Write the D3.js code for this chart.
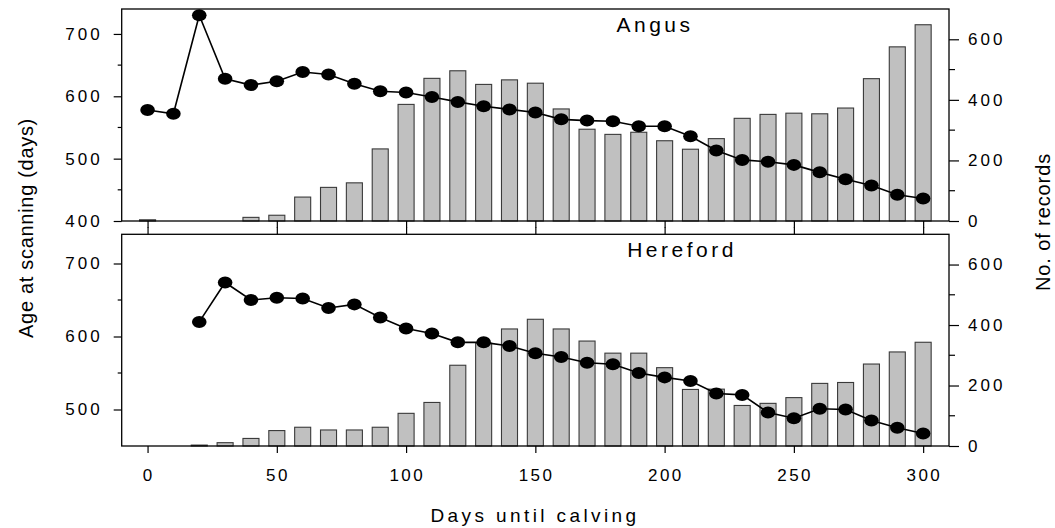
<!DOCTYPE html>
<html>
<head>
<meta charset="utf-8">
<script src="https://cdn.jsdelivr.net/npm/d3@7"></script>
<style>
  body { margin: 0; background: #fff; }
  svg text { font-family: "Liberation Sans", Arial, sans-serif; fill: #000; }
</style>
</head>
<body>
<div id="chart"></div>
<script>
// data
var days = [0, 10, 20, 30, 40, 50, 60, 70, 80, 90, 100, 110, 120, 130, 140, 150,
  160, 170, 180, 190, 200, 210, 220, 230, 240, 250, 260, 270, 280, 290, 300]

var angusRecords = [4, 0, 0, 0, 12, 19, 79, 111, 126, 238, 385, 471, 496, 451, 466, 455,
  370, 303, 286, 293, 265, 237, 272, 339, 352, 356, 354, 373, 470, 575, 648]
var angusAge = [578, 572, 730, 628, 618, 624, 639, 635, 620, 608, 606, 599, 591, 584, 579, 574,
  563, 561, 560, 552, 552, 536, 513, 498, 495, 490, 478, 467, 457, 442, 436]

var herefordRecords = [0, 0, 3, 11, 25, 51, 62, 53, 53, 62, 108, 144, 267, 340, 387, 419,
  387, 347, 307, 307, 259, 187, 188, 134, 141, 160, 207, 210, 271, 311, 343]
var herefordAge = [null, null, 620, 674, 650, 653, 652, 639, 644, 626, 611, 604, 592, 592, 587, 577,
  572, 564, 562, 550, 544, 539, 522, 520, 496, 488, 501, 500, 485, 475, 467]

var xTicks = [0, 50, 100, 150, 200, 250, 300]
var recTicks = [0, 200, 400, 600]

var width = 1055, height = 528
var left = 121.7, right = 949

var svg = d3.select("#chart")
  .append("svg")
  .attr("width", width)
  .attr("height", height)

var xScale = d3.scaleLinear()
  .domain([-10, 310])
  .range([left, right])

var panels = [
  { name: "Angus", top: 9, bottom: 221, ageDomain: [400, 740], ageTicks: [400, 500, 600, 700],
    ageMinor: [450, 550, 650], records: angusRecords, age: angusAge, titleX: 655, topTicks: false },
  { name: "Hereford", top: 234.3, bottom: 446, ageDomain: [450, 740], ageTicks: [500, 600, 700],
    ageMinor: [550, 650], records: herefordRecords, age: herefordAge, titleX: 682, topTicks: true }
]

panels.forEach(function(p) {
  var g = svg.append("g").attr("class", "panel")

  var yAge = d3.scaleLinear().domain(p.ageDomain).range([p.bottom, p.top])
  var yRec = d3.scaleLinear().domain([0, 700]).range([p.bottom, p.top])

  // bars
  var barHalf = 3.1
  g.selectAll(".bar")
    .data(days)
    .enter()
    .append("rect")
    .attr("class", "bar")
    .attr("x", function(d) { return xScale(d - barHalf) })
    .attr("width", function(d) { return xScale(d + barHalf) - xScale(d - barHalf) })
    .attr("y", function(d, i) { return yRec(p.records[i]) })
    .attr("height", function(d, i) { return p.bottom - yRec(p.records[i]) })
    .style("fill", "#c0c0c0")
    .style("stroke", "#3a3a3a")
    .style("stroke-width", 1.1)

  // line
  var pts = days.map(function(d, i) { return { x: d, y: p.age[i] } })
    .filter(function(d) { return d.y != null })

  var line = d3.line()
    .x(function(d) { return xScale(d.x) })
    .y(function(d) { return yAge(d.y) })

  g.append("path")
    .datum(pts)
    .attr("d", line)
    .style("fill", "none")
    .style("stroke", "#000")
    .style("stroke-width", 1.6)

  g.selectAll(".dot")
    .data(pts)
    .enter()
    .append("ellipse")
    .attr("class", "dot")
    .attr("cx", function(d) { return xScale(d.x) })
    .attr("cy", function(d) { return yAge(d.y) })
    .attr("rx", 7.3)
    .attr("ry", 6)
    .style("fill", "#000")

  // frame
  g.append("rect")
    .attr("x", left)
    .attr("y", p.top)
    .attr("width", right - left)
    .attr("height", p.bottom - p.top)
    .style("fill", "none")
    .style("stroke", "#000")
    .style("stroke-width", 1.3)

  // left axis
  var yAxisL = d3.axisLeft(yAge)
    .tickValues(p.ageTicks)
    .tickSize(8)
    .tickPadding(11)
    .tickFormat(d3.format("d"))
  var gl = g.append("g")
    .attr("transform", `translate(${left},0)`)
    .call(yAxisL)
  gl.select(".domain").remove()
  gl.selectAll(".tick line").style("stroke-width", 1.2)
  gl.selectAll("text")
    .style("font-size", "17px")
    .style("letter-spacing", "3px")
    .style("font-family", "'Liberation Sans', Arial, sans-serif")

  g.selectAll(".age-minor")
    .data(p.ageMinor)
    .enter()
    .append("line")
    .attr("x1", left - 4)
    .attr("x2", left)
    .attr("y1", function(d) { return yAge(d) })
    .attr("y2", function(d) { return yAge(d) })
    .style("stroke", "#000")
    .style("stroke-width", 1.2)

  // right axis
  var yAxisR = d3.axisRight(yRec)
    .tickValues(recTicks)
    .tickSize(10)
    .tickPadding(9)
  var gr = g.append("g")
    .attr("transform", `translate(${right},0)`)
    .call(yAxisR)
  gr.select(".domain").remove()
  gr.selectAll(".tick line").style("stroke-width", 1.2)
  gr.selectAll("text")
    .style("font-size", "17px")
    .style("letter-spacing", "3px")
    .style("font-family", "'Liberation Sans', Arial, sans-serif")

  g.selectAll(".rec-minor")
    .data([100, 300, 500])
    .enter()
    .append("line")
    .attr("x1", right)
    .attr("x2", right + 6)
    .attr("y1", function(d) { return yRec(d) })
    .attr("y2", function(d) { return yRec(d) })
    .style("stroke", "#000")
    .style("stroke-width", 1.2)

  // x ticks under the panel
  var xAxisB = d3.axisBottom(xScale).tickValues(xTicks).tickSize(7).tickFormat("")
  var gb = g.append("g")
    .attr("transform", `translate(0,${p.bottom})`)
    .call(xAxisB)
  gb.select(".domain").remove()
  gb.selectAll(".tick line").style("stroke-width", 1.2)

  if (p.topTicks) {
    var xAxisT = d3.axisTop(xScale).tickValues(xTicks).tickSize(7).tickFormat("")
    var gt = g.append("g")
      .attr("transform", `translate(0,${p.top})`)
      .call(xAxisT)
    gt.select(".domain").remove()
    gt.selectAll(".tick line").style("stroke-width", 1.2)
  }

  // panel title
  g.append("text")
    .attr("x", p.titleX)
    .attr("y", p.top + 23)
    .attr("text-anchor", "middle")
    .style("font-size", "21px")
    .style("letter-spacing", "3.5px")
    .text(p.name)
})

// x tick labels under bottom panel
svg.append("g")
  .selectAll("text")
  .data(xTicks)
  .enter()
  .append("text")
  .attr("x", function(d) { return xScale(d) + 1.25 })
  .attr("y", 481)
  .attr("text-anchor", "middle")
  .style("font-size", "17px")
  .style("letter-spacing", "2.5px")
  .text(function(d) { return d })

svg.append("text")
  .attr("x", 535)
  .attr("y", 522)
  .attr("text-anchor", "middle")
  .style("font-size", "19px")
  .style("letter-spacing", "3.4px")
  .text("Days until calving")

svg.append("text")
  .attr("text-anchor", "middle")
  .attr("transform", `translate(33,228) rotate(-90)`)
  .style("font-size", "20px")
  .style("letter-spacing", "0.7px")
  .text("Age at scanning (days)")

svg.append("text")
  .attr("text-anchor", "middle")
  .attr("transform", `translate(1050,222) rotate(-90)`)
  .style("font-size", "20px")
  .style("letter-spacing", "0.9px")
  .text("No. of records")
</script>
</body>
</html>
